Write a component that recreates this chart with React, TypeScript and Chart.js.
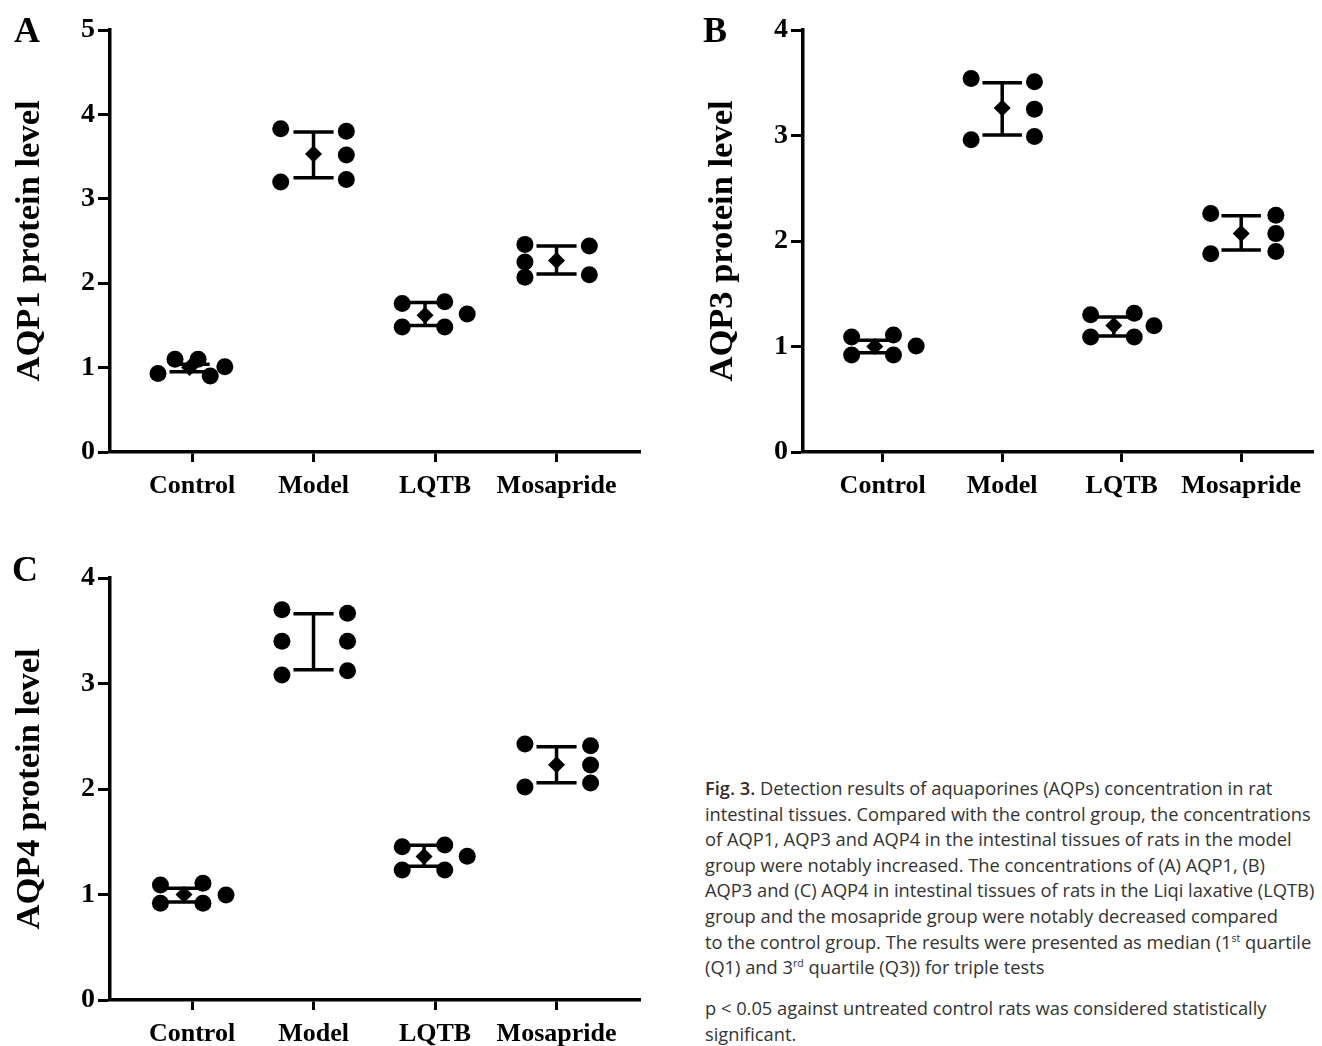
import React, { useEffect, useRef } from 'react';
import { Chart, registerables } from 'chart.js';

Chart.register(...registerables);

const categories = ['Control', 'Model', 'LQTB', 'Mosapride'];

// ---- Panel A: AQP1 ----
const aqp1Values = [
  [0.93, 1.10, 1.10, 0.90, 1.01],
  [3.83, 3.20, 3.80, 3.52, 3.23],
  [1.76, 1.48, 1.78, 1.48, 1.635],
  [2.46, 2.25, 2.07, 2.44, 2.10],
];
const aqp1Jitter = [
  [-0.28, -0.14, 0.05, 0.15, 0.27],
  [-0.27, -0.27, 0.27, 0.27, 0.27],
  [-0.27, -0.27, 0.08, 0.08, 0.265],
  [-0.26, -0.26, -0.26, 0.27, 0.27],
];
const aqp1Median = [1.0, 3.53, 1.62, 2.27];
const aqp1Q1 = [0.95, 3.25, 1.50, 2.11];
const aqp1Q3 = [1.04, 3.79, 1.77, 2.44];
const aqp1MedShift = [-0.02, 0, -0.082, 0];
const aqp1MedMark = [true, true, true, true];

// ---- Panel B: AQP3 ----
const aqp3Values = [
  [1.09, 0.92, 1.11, 0.92, 1.005],
  [3.54, 2.96, 3.51, 3.25, 2.99],
  [1.30, 1.09, 1.315, 1.09, 1.197],
  [2.26, 1.88, 2.245, 2.07, 1.90],
];
const aqp3Jitter = [
  [-0.26, -0.26, 0.09, 0.09, 0.28],
  [-0.26, -0.26, 0.27, 0.27, 0.27],
  [-0.26, -0.26, 0.105, 0.105, 0.27],
  [-0.255, -0.255, 0.29, 0.29, 0.29],
];
const aqp3Median = [1.0, 3.26, 1.20, 2.07];
const aqp3Q1 = [0.94, 3.005, 1.10, 1.915];
const aqp3Q3 = [1.06, 3.50, 1.28, 2.24];
const aqp3MedShift = [-0.066, 0, -0.066, 0];
const aqp3MedMark = [true, true, true, true];

// ---- Panel C: AQP4 ----
const aqp4Values = [
  [1.09, 0.917, 1.106, 0.917, 0.995],
  [3.70, 3.40, 3.08, 3.665, 3.40, 3.12],
  [1.453, 1.232, 1.469, 1.232, 1.362],
  [2.427, 2.02, 2.41, 2.227, 2.057],
];
const aqp4Jitter = [
  [-0.26, -0.26, 0.09, 0.09, 0.28],
  [-0.26, -0.26, -0.26, 0.28, 0.28, 0.28],
  [-0.27, -0.27, 0.08, 0.08, 0.265],
  [-0.26, -0.26, 0.28, 0.28, 0.28],
];
const aqp4Median = [1.0, 3.40, 1.36, 2.23];
const aqp4Q1 = [0.93, 3.13, 1.267, 2.06];
const aqp4Q3 = [1.06, 3.66, 1.466, 2.40];
const aqp4MedShift = [-0.066, 0, -0.09, 0];
const aqp4MedMark = [true, false, true, true];

const SERIF = "'Liberation Serif', 'Times New Roman', serif";

const iqrPlugin = {
  id: 'iqrBars',
  afterDatasetsDraw(chart: any, _args: any, opts: any) {
    const { ctx } = chart;
    const xs = chart.scales.x;
    const ys = chart.scales.y;
    ctx.save();
    ctx.strokeStyle = '#000';
    ctx.lineWidth = 3.5;
    ctx.lineCap = 'butt';
    (opts.q1 as number[]).forEach((lo: number, i: number) => {
      const cxv = i + opts.shift[i];
      const cx = xs.getPixelForValue(cxv);
      const yl = ys.getPixelForValue(lo);
      const yh = ys.getPixelForValue(opts.q3[i]);
      const xl = xs.getPixelForValue(cxv - opts.cap);
      const xr = xs.getPixelForValue(cxv + opts.cap);
      ctx.beginPath();
      ctx.moveTo(cx, yl);
      ctx.lineTo(cx, yh);
      ctx.moveTo(xl, yl);
      ctx.lineTo(xr, yl);
      ctx.moveTo(xl, yh);
      ctx.lineTo(xr, yh);
      ctx.stroke();
    });
    ctx.restore();
  },
};

type PanelProps = {
  left: number;
  top: number;
  width: number;
  height: number;
  padRight: number;
  yMax: number;
  xMin: number;
  xMax: number;
  yTitle: string;
  values: number[][];
  jitter: number[][];
  median: number[];
  q1: number[];
  q3: number[];
  medShift: number[];
  medMark: boolean[];
};

function Panel(p: PanelProps) {
  const ref = useRef<HTMLCanvasElement>(null);
  useEffect(() => {
    if (!ref.current) return;
    const pts: { x: number; y: number }[] = [];
    p.values.forEach((vals, ci) =>
      vals.forEach((v, k) => pts.push({ x: ci + p.jitter[ci][k], y: v }))
    );
    const med = p.median.map((m, ci) => ({ x: ci + p.medShift[ci], y: m }));
    const chart = new Chart(ref.current, {
      type: 'scatter',
      data: {
        datasets: [
          {
            data: pts,
            pointStyle: 'circle',
            pointRadius: 8.5,
            pointHoverRadius: 8.5,
            backgroundColor: '#000',
            borderColor: '#000',
            borderWidth: 0,
          },
          {
            data: med,
            pointStyle: 'rectRot',
            pointRadius: p.medMark.map((m) => (m ? 8.5 : 0)),
            pointHoverRadius: 0,
            backgroundColor: '#000',
            borderColor: '#000',
            borderWidth: 0,
          },
        ],
      },
      options: {
        responsive: false,
        animation: false,
        events: [],
        layout: { padding: { left: 0, top: 30, right: p.padRight, bottom: 0 } },
        plugins: {
          legend: { display: false },
          tooltip: { enabled: false },
          iqrBars: { q1: p.q1, q3: p.q3, shift: p.medShift, cap: 0.165 },
        } as any,
        scales: {
          x: {
            type: 'linear',
            min: p.xMin,
            max: p.xMax,
            afterBuildTicks: (s: any) => {
              s.ticks = categories.map((_, i) => ({ value: i }));
            },
            afterFit: (s: any) => {
              s.height = p.height - 452;
            },
            ticks: {
              autoSkip: false,
              maxRotation: 0,
              padding: 9,
              color: '#000',
              font: { family: SERIF, weight: 'bold', size: 26 },
              callback: (v: any) => categories[Math.round(Number(v))] ?? '',
            },
            grid: {
              drawOnChartArea: false,
              drawTicks: true,
              tickLength: 10,
              tickWidth: 3,
              color: '#000',
            },
            border: { display: true, width: 3.5, color: '#000' },
          },
          y: {
            min: 0,
            max: p.yMax,
            afterFit: (s: any) => {
              s.width = 110;
            },
            ticks: {
              stepSize: 1,
              padding: 3,
              color: '#000',
              font: { family: SERIF, weight: 'bold', size: 28 },
            },
            grid: {
              drawOnChartArea: false,
              drawTicks: true,
              tickLength: 12,
              tickWidth: 3,
              color: '#000',
            },
            border: { display: true, width: 3.5, color: '#000' },
            title: {
              display: true,
              text: p.yTitle,
              color: '#000',
              font: { family: SERIF, weight: 'bold', size: 34.5 },
              padding: { top: 9, bottom: 0 },
            },
          },
        },
      } as any,
      plugins: [iqrPlugin as any],
    });
    return () => chart.destroy();
  }, []);
  return (
    <canvas
      ref={ref}
      width={p.width}
      height={p.height}
      style={{ position: 'absolute', left: p.left, top: p.top, width: p.width, height: p.height }}
    />
  );
}

const letterStyle = (left: number, top: number): React.CSSProperties => ({
  position: 'absolute',
  left,
  top,
  fontFamily: SERIF,
  fontWeight: 'bold',
  fontSize: 36,
  lineHeight: 1,
  color: '#000',
});

const captionLines: React.ReactNode[] = [
  <>
    <span style={{ fontWeight: 600, color: '#3a2a2a' }}>Fig. 3.</span> Detection results of aquaporines (AQPs) concentration in rat
  </>,
  'intestinal tissues. Compared with the control group, the concentrations',
  'of AQP1, AQP3 and AQP4 in the intestinal tissues of rats in the model',
  'group were notably increased. The concentrations of (A) AQP1, (B)',
  'AQP3 and (C) AQP4 in intestinal tissues of rats in the Liqi laxative (LQTB)',
  'group and the mosapride group were notably decreased compared',
  <>
    to the control group. The results were presented as median (1
    <sup style={{ fontSize: '58%', lineHeight: 0 }}>st</sup> quartile
  </>,
  <>
    (Q1) and 3<sup style={{ fontSize: '58%', lineHeight: 0 }}>rd</sup> quartile (Q3)) for triple tests
  </>,
];

const captionNote = [
  'p < 0.05 against untreated control rats was considered statistically',
  'significant.',
];

const captionStyle: React.CSSProperties = {
  position: 'absolute',
  left: 705,
  fontFamily: "'Open Sans', 'Noto Sans', sans-serif",
  fontSize: 18.3,
  lineHeight: '25.6px',
  letterSpacing: 0,
  color: '#333',
  whiteSpace: 'nowrap',
};

export default function App() {
  return (
    <div
      style={{
        position: 'absolute',
        left: 0,
        top: 0,
        width: 1322,
        height: 1046,
        overflow: 'hidden',
        background: '#fff',
      }}
    >
      <Panel
        left={0}
        top={0}
        width={660}
        height={510}
        padRight={20}
        yMax={5}
        xMin={-0.675}
        xMax={3.687}
        yTitle="AQP1 protein level"
        values={aqp1Values}
        jitter={aqp1Jitter}
        median={aqp1Median}
        q1={aqp1Q1}
        q3={aqp1Q3}
        medShift={aqp1MedShift}
        medMark={aqp1MedMark}
      />
      <Panel
        left={693}
        top={0}
        width={629}
        height={510}
        padRight={0}
        yMax={4}
        xMin={-0.667}
        xMax={3.605}
        yTitle="AQP3 protein level"
        values={aqp3Values}
        jitter={aqp3Jitter}
        median={aqp3Median}
        q1={aqp3Q1}
        q3={aqp3Q3}
        medShift={aqp3MedShift}
        medMark={aqp3MedMark}
      />
      <Panel
        left={0}
        top={548}
        width={660}
        height={498}
        padRight={20}
        yMax={4}
        xMin={-0.675}
        xMax={3.687}
        yTitle="AQP4 protein level"
        values={aqp4Values}
        jitter={aqp4Jitter}
        median={aqp4Median}
        q1={aqp4Q1}
        q3={aqp4Q3}
        medShift={aqp4MedShift}
        medMark={aqp4MedMark}
      />
      <div style={letterStyle(14, 12)}>A</div>
      <div style={letterStyle(703, 12)}>B</div>
      <div style={letterStyle(12, 551)}>C</div>
      <div style={{ ...captionStyle, top: 775 }}>
        {captionLines.map((l, i) => (
          <div key={i}>{l}</div>
        ))}
      </div>
      <div style={{ ...captionStyle, top: 995 }}>
        {captionNote.map((l, i) => (
          <div key={i}>{l}</div>
        ))}
      </div>
    </div>
  );
}
